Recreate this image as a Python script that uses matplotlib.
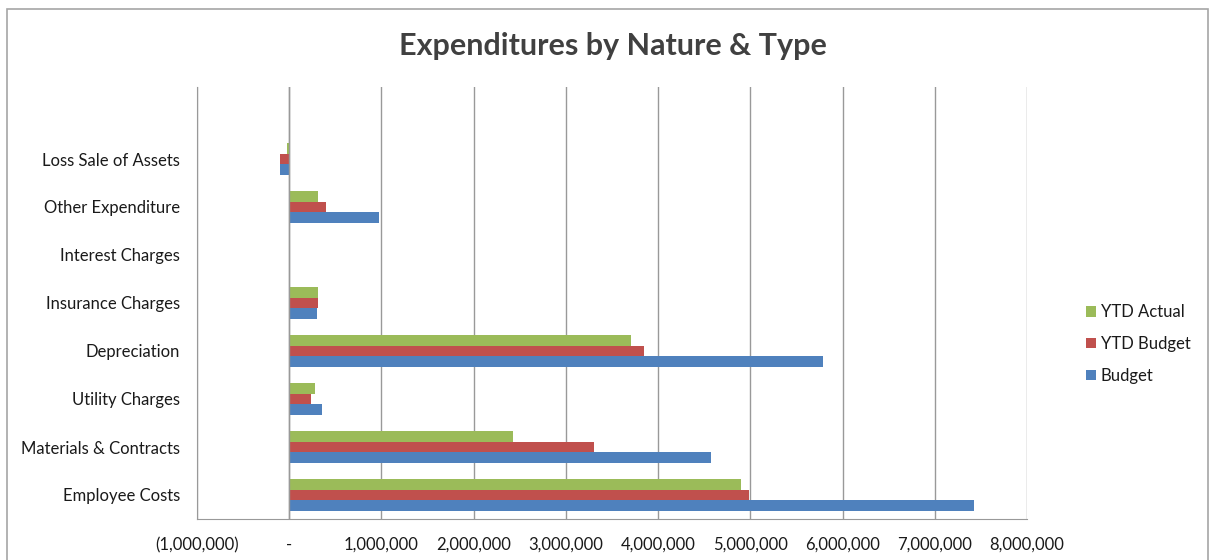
import matplotlib.pyplot as plt
import matplotlib.ticker as mticker
from matplotlib.patches import Rectangle
import numpy as np

plt.rcParams['font.family'] = ['Lato', 'DejaVu Sans']

categories = ["Employee Costs", "Materials & Contracts", "Utility Charges", "Depreciation",
              "Insurance Charges", "Interest Charges", "Other Expenditure", "Loss Sale of Assets"]
budget = [7430000, 4570000, 360000, 5790000, 300000, 0, 970000, -105000]
ytd_budget = [4990000, 3300000, 240000, 3850000, 310000, 0, 395000, -100000]
ytd_actual = [4900000, 2430000, 280000, 3710000, 310000, 0, 315000, -20000]

W, H = 1211, 560
fig = plt.figure(figsize=(W / 100, H / 100), dpi=100)
fig.patch.set_facecolor("white")

# chart frame
fig.patches.append(Rectangle((7 / W, -0.01), 1201 / W, 1 - 9 / H + 0.01, transform=fig.transFigure,
                             fill=False, edgecolor="#a6a6a6", linewidth=1.2))

# plot area in pixels: x 197..1027, y 87..519
ax = fig.add_axes([197 / W, 1 - 519 / H, 830 / W, 432 / H])

y = np.arange(len(categories))
h = 0.22
ax.barh(y - h, budget, height=h, color="#4f81bd", label="Budget", zorder=3)
ax.barh(y, ytd_budget, height=h, color="#c0504d", label="YTD Budget", zorder=3)
ax.barh(y + h, ytd_actual, height=h, color="#9bbb59", label="YTD Actual", zorder=3)

ax.set_xlim(-1000000, 8000000)
ax.set_ylim(-0.5, -0.5 + 432 / 48)
ax.set_yticks(y)
ax.set_yticklabels(categories)
ax.xaxis.set_major_locator(mticker.MultipleLocator(1000000))


def fmt(v, pos):
    if v == 0:
        return "-"
    if v < 0:
        return "({:,.0f})".format(-v)
    return "{:,.0f}".format(v)


ax.xaxis.set_major_formatter(mticker.FuncFormatter(fmt))
ax.grid(axis="x", color="#999999", linewidth=1.0, zorder=0)
ax.tick_params(axis="both", length=0, labelsize=12, colors="#1a1a1a")
ax.tick_params(axis="x", pad=13)
ax.tick_params(axis="y", pad=12)
for s in ax.spines.values():
    s.set_visible(False)
ax.spines["left"].set_visible(True)
ax.spines["left"].set_color("#999999")
ax.spines["bottom"].set_visible(True)
ax.spines["bottom"].set_color("#999999")
ax.axvline(0, color="#999999", linewidth=1.0, zorder=4)

fig.text(613 / W, 1 - 46 / H, "Expenditures by Nature & Type", ha="center", va="center",
         fontsize=22, fontweight="bold", color="#404040")

handles, labels = ax.get_legend_handles_labels()
leg = fig.legend(handles[::-1], labels[::-1], loc="center left", bbox_to_anchor=(1071 / W, 1 - 344 / H),
                 frameon=False, fontsize=12, handlelength=0.6, handleheight=0.6,
                 handletextpad=0.3, labelspacing=0.95)
for t in leg.get_texts():
    t.set_color("#1a1a1a")

fig.savefig("out.png", dpi=100, facecolor="white")
